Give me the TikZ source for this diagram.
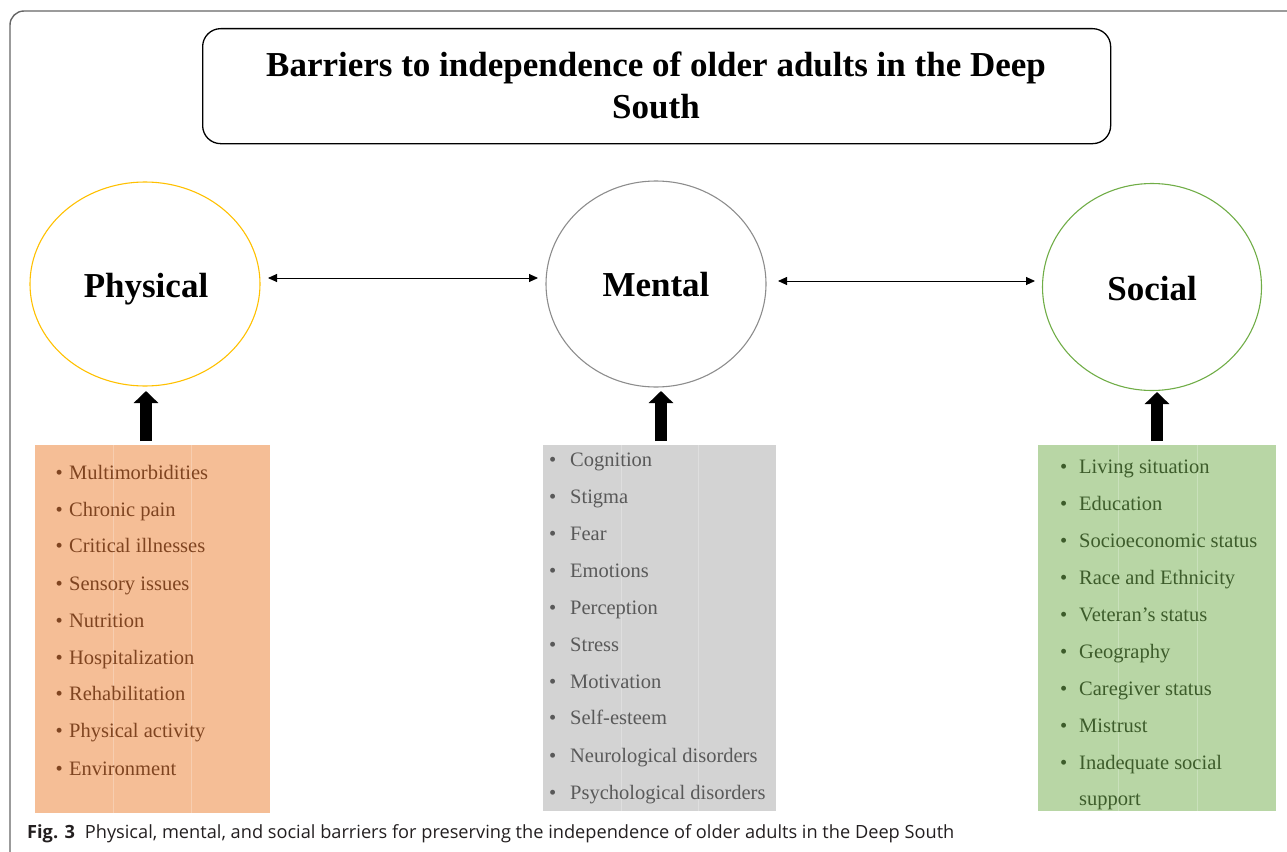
\documentclass[tikz,border=0pt]{standalone}
\usepackage{fontspec}
\setmainfont{Liberation Serif}
\newfontfamily\capfont{Open Sans}
\usetikzlibrary{arrows.meta,shapes.geometric}
\definecolor{physline}{HTML}{FFC000}
\definecolor{mentline}{HTML}{8C8C8C}
\definecolor{socline}{HTML}{70AD47}
\definecolor{physfill}{HTML}{F5BE96}
\definecolor{mentfill}{HTML}{D3D3D3}
\definecolor{socfill}{HTML}{B8D6A5}
\definecolor{phystext}{HTML}{7F4420}
\definecolor{menttext}{HTML}{595959}
\definecolor{soctext}{HTML}{3D5C2B}
\definecolor{captext}{HTML}{231F20}
\newcommand{\bul}[1]{\llap{\textbullet\hspace{#1}}}
\tikzset{
  circ/.style={ellipse, line width=1.1pt, minimum width=#1, inner sep=0},
  clabel/.style={anchor=base, inner sep=0, font=\bfseries\fontsize{35}{40}\selectfont},
  listbox/.style={anchor=north west, inner sep=0, draw=none},
  item/.style={anchor=base west, inner sep=0, font=\fontsize{20.5}{24}\selectfont},
  link/.style={line width=0.9pt, {Triangle[length=9pt,width=8pt]}-{Triangle[length=9pt,width=8pt]}},
  bigarrow/.style={line width=12pt, -{Triangle[length=12pt,width=24pt]}},
  cell/.style={white, opacity=0.25, line width=0.8pt}
}
\begin{document}
\begin{tikzpicture}[x=1pt,y=-1pt]
\useasboundingbox (0,0) rectangle (1287,851);
\clip (0,0) rectangle (1287,851);
% outer frame
\draw[black!60, line width=1.4pt, rounded corners=14pt] (10,11) rectangle (1320,880);
% title
\node[draw, line width=1.3pt, rounded corners=18pt, minimum width=908pt, minimum height=115pt, anchor=north west, inner sep=0] (title) at (202,28) {};
\node[anchor=base, inner sep=0, font=\bfseries\fontsize{35}{41}\selectfont] (titleA) at (656,77) {Barriers to independence of older adults in the Deep};
\node[anchor=base, inner sep=0, font=\bfseries\fontsize{35}{41}\selectfont] (titleB) at (656,118) {South};
% circles
\node[circ=230pt, minimum height=204pt, draw=physline] (phys) at (145,284) {};
\node[circ=220pt, minimum height=206pt, draw=mentline] (ment) at (656,284) {};
\node[circ=219pt, minimum height=207pt, draw=socline] (soc) at (1152,287) {};
\node[clabel] (physL) at (146,297) {Physical};
\node[clabel] (mentL) at (656,296) {Mental};
\node[clabel] (socL) at (1152,300) {Social};
% double arrows
\coordinate (l1a) at (268,278);
\coordinate (l1b) at (538,278);
\coordinate (l2a) at (778,281);
\coordinate (l2b) at (1035,281);
\draw[link] (l1a) -- (l1b);
\draw[link] (l2a) -- (l2b);
% boxes
\node[listbox, fill=physfill, minimum width=235pt, minimum height=368pt] (physbox) at (35,445) {};
\node[listbox, fill=mentfill, minimum width=233pt, minimum height=366pt] (mentbox) at (543,445) {};
\node[listbox, fill=socfill, minimum width=238pt, minimum height=366pt] (socbox) at (1038,445) {};
\draw[cell] (113,445) -- (113,813);
\draw[cell] (191,445) -- (191,813);
\draw[cell] (621,445) -- (621,811);
\draw[cell] (698,445) -- (698,811);
\draw[cell] (1118,445) -- (1118,811);
\draw[cell] (1197,445) -- (1197,811);
% up arrows
\coordinate (pa) at (146,441);
\coordinate (ma) at (661,441);
\coordinate (sa) at (1157,441);
\draw[bigarrow] (pa) -- (pa |- 0,391);
\draw[bigarrow] (ma) -- (ma |- 0,391);
\draw[bigarrow] (sa) -- (sa |- 0,392);
% physical items
\foreach \t/\yb [count=\i] in {Multimorbidities/479, Chronic pain/516, Critical illnesses/552, Sensory issues/590, Nutrition/627, Hospitalization/664, Rehabilitation/700, Physical activity/737, Environment/775}
  \node[item, text=phystext] (p\i) at (69,\yb) {\bul{6.5pt}\t};
% mental items
\foreach \t/\yb [count=\i] in {Cognition/466, Stigma/503, Fear/540, Emotions/577, Perception/614, Stress/651, Motivation/688, Self-esteem/724, Neurological disorders/762, Psychological disorders/799}
  \node[item, text=menttext] (m\i) at (570,\yb) {\bul{14pt}\t};
% social items
\foreach \t/\yb [count=\i] in {Living situation/473, Education/510, Socioeconomic status/547, Race and Ethnicity/584, Veteran’s status/621, Geography/658, Caregiver status/695, Mistrust/732, Inadequate social/769}
  \node[item, text=soctext] (s\i) at (1079,\yb) {\bul{12pt}\t};
\node[item, text=soctext] (s10) at (1079,805) {support};
% caption
\node[anchor=base west, inner sep=0, text=captext, font=\capfont\fontsize{18.2}{21}\selectfont] (cap) at (27,838) {\textbf{Fig. 3}\hspace{10pt}Physical, mental, and social barriers for preserving the independence of older adults in the Deep South};
\end{tikzpicture}
\end{document}
